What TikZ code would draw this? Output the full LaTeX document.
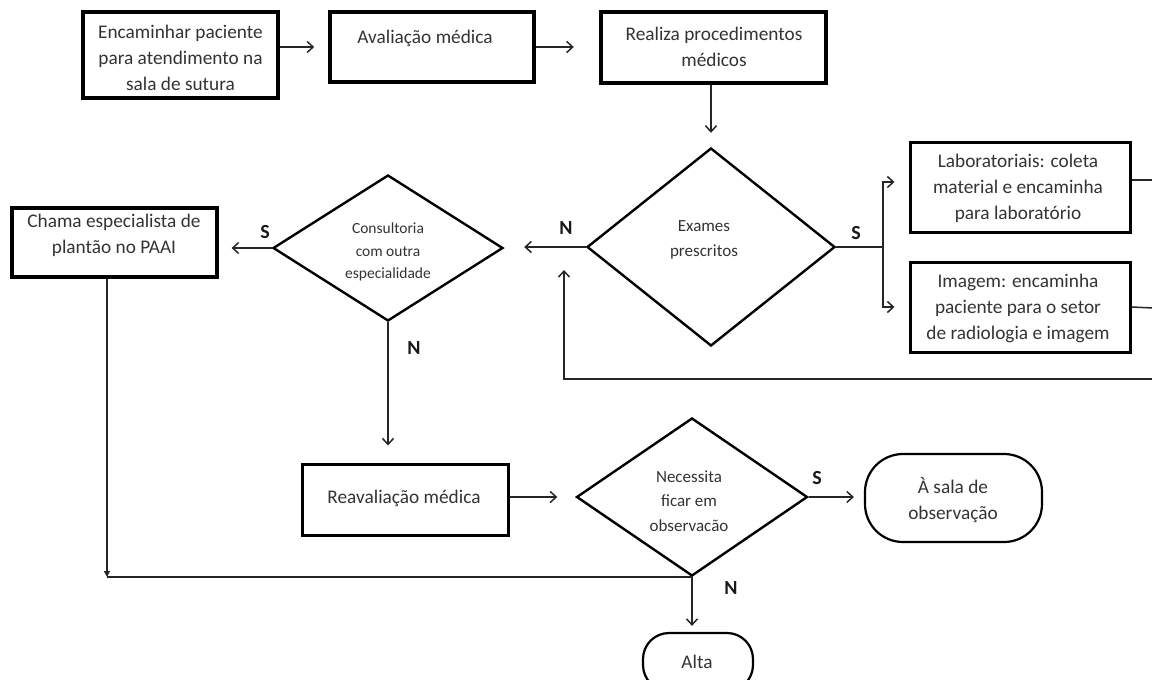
\documentclass[tikz,border=0pt]{standalone}
\usepackage{fontspec}
\setmainfont{Carlito}
\usetikzlibrary{arrows.meta,shapes.geometric,calc}

\begin{document}
\begin{tikzpicture}[x=1pt,y=-1pt,
  procbox/.style={draw=black, line width=3.2pt, inner sep=0pt},
  decision/.style={draw=black, diamond, line width=2.4pt, inner sep=0pt},
  terminal/.style={draw=black, line width=2.2pt, inner sep=0pt},
  txt/.style={text=black!80, align=center, inner sep=0pt,
    font=\fontsize{19.3}{26}\selectfont},
  txtsmall/.style={txt, font=\fontsize{17}{24.5}\selectfont},
  txttiny/.style={txt, font=\fontsize{15.5}{22.5}\selectfont},
  lbl/.style={text=black!90, inner sep=0pt, font=\fontsize{20}{20}\selectfont\bfseries},
  conn/.style={draw=black!85, line width=1.5pt},
  arr/.style={conn, -{Straight Barb[length=6pt,width=11pt,line width=1.5pt]}}
]
\useasboundingbox (0,0) rectangle (1152,680);
\clip (0,0) rectangle (1152,680);

% --- top row -------------------------------------------------------------
\node[procbox, minimum width=195pt, minimum height=86pt] (b1) at (180.5,55) {};
\node[txt] (b1t) at (180.5,58) {Encaminhar paciente\\para atendimento na\\sala de sutura};

\node[procbox, line width=3.6pt, minimum width=204pt, minimum height=70pt] (b2) at (432,47) {};
\node[txt] (b2t) at (425,38) {Avaliação médica};

\node[procbox, line width=4.4pt, minimum width=225pt, minimum height=71pt] (b3) at (713.5,47.5) {};
\node[txt] (b3t) at (714,47) {Realiza procedimentos\\médicos};

% --- exams decision and its branches -------------------------------------
\node[decision, minimum width=248pt, minimum height=198pt] (ex) at (711,247) {};
\node[txtsmall] (ext) at (704,240) {Exames\\prescritos};

\node[procbox, line width=3pt, minimum width=220pt, minimum height=90pt] (lab) at (1020,187) {};
\node[txt] (labt) at (1018,188) {Laboratoriais: coleta\\material e encaminha\\para laboratório};

\node[procbox, line width=3pt, minimum width=220pt, minimum height=90pt] (img) at (1020,307) {};
\node[txt] (imgt) at (1018,308) {Imagem: encaminha\\paciente para o setor\\de radiologia e imagem};

% --- consultation decision -----------------------------------------------
\node[decision, minimum width=230pt, minimum height=146pt] (co) at (388,248) {};
\node[txttiny] (cot) at (388,252) {Consultoria\\com outra\\especialidade};

\node[procbox, minimum width=205pt, minimum height=69pt] (ch) at (114.5,242.5) {};
\node[txt] (cht) at (114,235) {Chama especialista de\\plantão no PAAI};

% --- bottom row ------------------------------------------------------------
\node[procbox, line width=3pt, minimum width=206pt, minimum height=71pt] (re) at (405,499.5) {};
\node[txt] (ret) at (404,498) {Reavaliação médica};

\node[decision, minimum width=231pt, minimum height=158pt] (ne) at (692,497) {};
\node[txtsmall] (net) at (689,501) {Necessita\\ficar em\\observacão};

\node[terminal, rounded corners=38pt, minimum width=177pt, minimum height=88pt] (sa) at (953.5,498) {};
\node[txt] (sat) at (953,500) {À sala de\\observação};

\node[terminal, rounded corners=26pt, minimum width=110pt, minimum height=58pt] (al) at (698,662) {};
\node[txt] (alt) at (697,662) {Alta};

% --- connectors ------------------------------------------------------------
\draw[arr, shorten >=14pt] (b1.east |- b2.west) -- (b2.west);
\draw[arr, shorten >=25pt] (b2.east) -- (b3.west |- b2.east);
\draw[arr, shorten >=14pt] (b3.south -| ex.north) -- (ex.north);

\draw[arr, shorten >=20pt] (ex.west) -- (co.east |- ex.west);
\node[lbl] (n1) at (566,228) {N};

\coordinate (sj) at (883,247);
\draw[conn] (ex.east) -- (sj);
\draw[arr, shorten >=14pt] (sj) |- ([yshift=5pt]lab.west);
\draw[arr, shorten >=14pt] (sj) |- (img.west);
\node[lbl] (s1) at (856,233) {S};

\coordinate (labr) at (1153,180);
\coordinate (imgr) at (1153,308);
\draw[conn] ([yshift=7pt]lab.east) -- (labr);
\draw[conn] (img.east) -- (imgr);

\coordinate (retr) at (1153,379);
\coordinate (retc) at (564,379);
\draw[arr, shorten >=23pt] (retr) -- (retc) -- (retc |- ex.west);

\draw[arr, shorten >=13pt] (co.west) -- (ch.east |- co.west);
\node[lbl] (s2) at (265,232) {S};

\draw[arr, shorten >=17pt] (co.south) -- (co.south |- re.north);
\node[lbl] (n2) at (414,348) {N};

\coordinate (cj) at (107,577);
\draw[conn, -{Triangle[length=6pt,width=6pt]}] (ch.south -| cj) -- (cj);
\draw[conn] (cj) -- (cj -| ne.south) -- (ne.south);

\draw[arr, shorten >=18pt] (re.east |- ne.west) -- (ne.west);

\draw[arr, shorten >=6pt] (ne.south) -- (ne.south |- al.north);
\node[lbl] (n3) at (731,588) {N};

\draw[arr, shorten >=10pt] (ne.east) -- (sa.west |- ne.east);
\node[lbl] (s3) at (817,478) {S};
\end{tikzpicture}
\end{document}
